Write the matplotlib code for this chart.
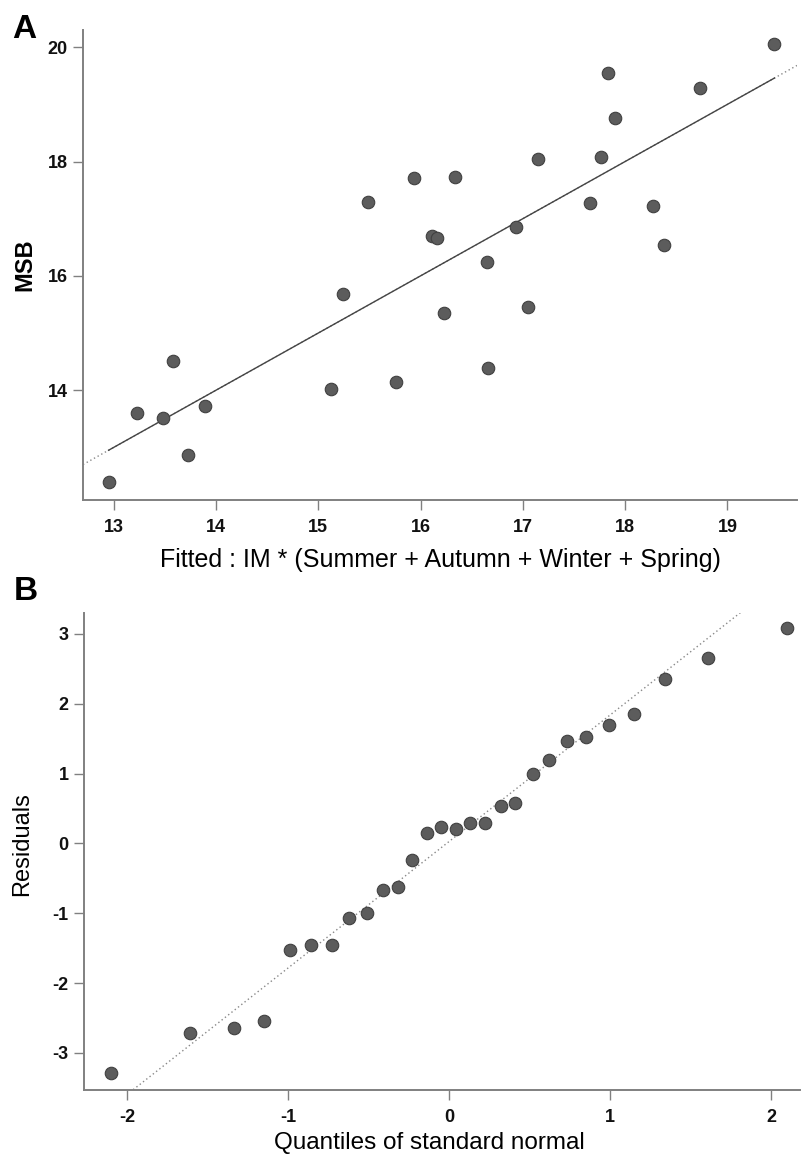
import matplotlib
matplotlib.use("Agg")
import matplotlib.pyplot as plt
import numpy as np

plt.rcParams['font.family'] = ['Liberation Sans', 'DejaVu Sans']
plt.rcParams['axes.unicode_minus'] = False

# Panel A data: fitted values vs observed MSB
fitted = [12.95, 13.23, 13.48, 13.58, 13.73, 13.89, 15.12, 15.24, 15.49, 15.76,
          15.94, 16.11, 16.16, 16.23, 16.34, 16.65, 16.66, 16.93, 17.05, 17.15,
          17.66, 17.76, 17.83, 17.90, 18.27, 18.38, 18.73, 19.46]
msb = [12.40, 13.60, 13.51, 14.51, 12.87, 13.72, 14.03, 15.68, 17.29, 14.14,
       17.71, 16.70, 16.67, 15.35, 17.73, 16.25, 14.39, 16.86, 15.46, 18.05,
       17.28, 18.08, 19.55, 18.76, 17.22, 16.54, 19.28, 20.05]

# Panel B data: normal quantiles vs residuals
quantiles = [-2.10, -1.61, -1.34, -1.15, -0.99, -0.86, -0.73, -0.62, -0.51, -0.41,
             -0.32, -0.23, -0.14, -0.05, 0.04, 0.13, 0.22, 0.32, 0.41, 0.52,
             0.62, 0.73, 0.85, 0.99, 1.15, 1.34, 1.61, 2.10]
residuals = [-3.28, -2.71, -2.64, -2.54, -1.52, -1.46, -1.45, -1.07, -0.99, -0.66,
             -0.62, -0.24, 0.15, 0.23, 0.21, 0.29, 0.30, 0.53, 0.58, 0.99,
             1.20, 1.47, 1.52, 1.70, 1.85, 2.35, 2.66, 3.08]
qq_intercept = 0.03
qq_slope = 1.81

xticks_a = [13, 14, 15, 16, 17, 18, 19]
yticks_a = [14, 16, 18, 20]
xticks_b = [-2, -1, 0, 1, 2]
yticks_b = [-3, -2, -1, 0, 1, 2, 3]

W, H = 805, 1163
fig = plt.figure(figsize=(W / 100, H / 100), dpi=100)

spine_col = '#808080'
pt_face = '#5c5c5c'
pt_edge = '#404040'


def style(ax):
    for s in ['top', 'right']:
        ax.spines[s].set_visible(False)
    for s in ['left', 'bottom']:
        ax.spines[s].set_color(spine_col)
        ax.spines[s].set_linewidth(1.4)
    ax.tick_params(direction='out', length=7, width=1.0, color=spine_col,
                   labelsize=13, labelcolor='#111111')
    ax.tick_params(axis='x', pad=7)
    ax.tick_params(axis='y', pad=4)
    for lab in ax.get_xticklabels() + ax.get_yticklabels():
        lab.set_fontweight('bold')


# ---- Panel A ----
axA = fig.add_axes([83 / W, 1 - 500 / H, (797 - 83) / W, 470 / H])
axA.set_xlim(12.70, 19.68)
axA.set_ylim(12.08, 20.30)
xr = np.array(axA.get_xlim())
axA.plot(xr, xr, linestyle=(0, (1, 2)), color='#888888', lw=1.0, zorder=1)
fx = np.array([min(fitted), max(fitted)])
axA.plot(fx, fx, color='#444444', lw=1.0, zorder=2)
axA.plot(fitted, msb, 'o', ms=9, mfc=pt_face, mec=pt_edge, mew=0.8, zorder=3)
axA.set_xticks(xticks_a)
axA.set_yticks(yticks_a)
style(axA)
axA.set_xlabel('Fitted : IM * (Summer + Autumn + Winter + Spring)', fontsize=18, labelpad=8)
axA.set_ylabel('MSB', fontsize=17, fontweight='bold', labelpad=8)
fig.text(12 / W, 1 - 38 / H, 'A', fontsize=24, fontweight='bold', ha='left', va='baseline')

# ---- Panel B ----
axB = fig.add_axes([84 / W, 1 - 1090 / H, (800 - 84) / W, (1090 - 613) / H])
axB.set_xlim(-2.27, 2.18)
axB.set_ylim(-3.53, 3.30)
qx = np.linspace(-2.27, 2.18, 200)
axB.plot(qx, qq_intercept + qq_slope * qx, linestyle=(0, (1, 2)), color='#888888', lw=1.0, zorder=1)
axB.plot(quantiles, residuals, 'o', ms=9, mfc=pt_face, mec=pt_edge, mew=0.8, zorder=3)
axB.set_xticks(xticks_b)
axB.set_yticks(yticks_b)
style(axB)
axB.set_xlabel('Quantiles of standard normal', fontsize=17.5, labelpad=4)
axB.xaxis.label.set_x(0.483)
axB.set_ylabel('Residuals', fontsize=17)
axB.yaxis.set_label_coords(-0.071, 0.516)
fig.text(14 / W, 1 - 600 / H, 'B', fontsize=24, fontweight='bold', ha='left', va='baseline')

fig.savefig('out.png', dpi=100)
